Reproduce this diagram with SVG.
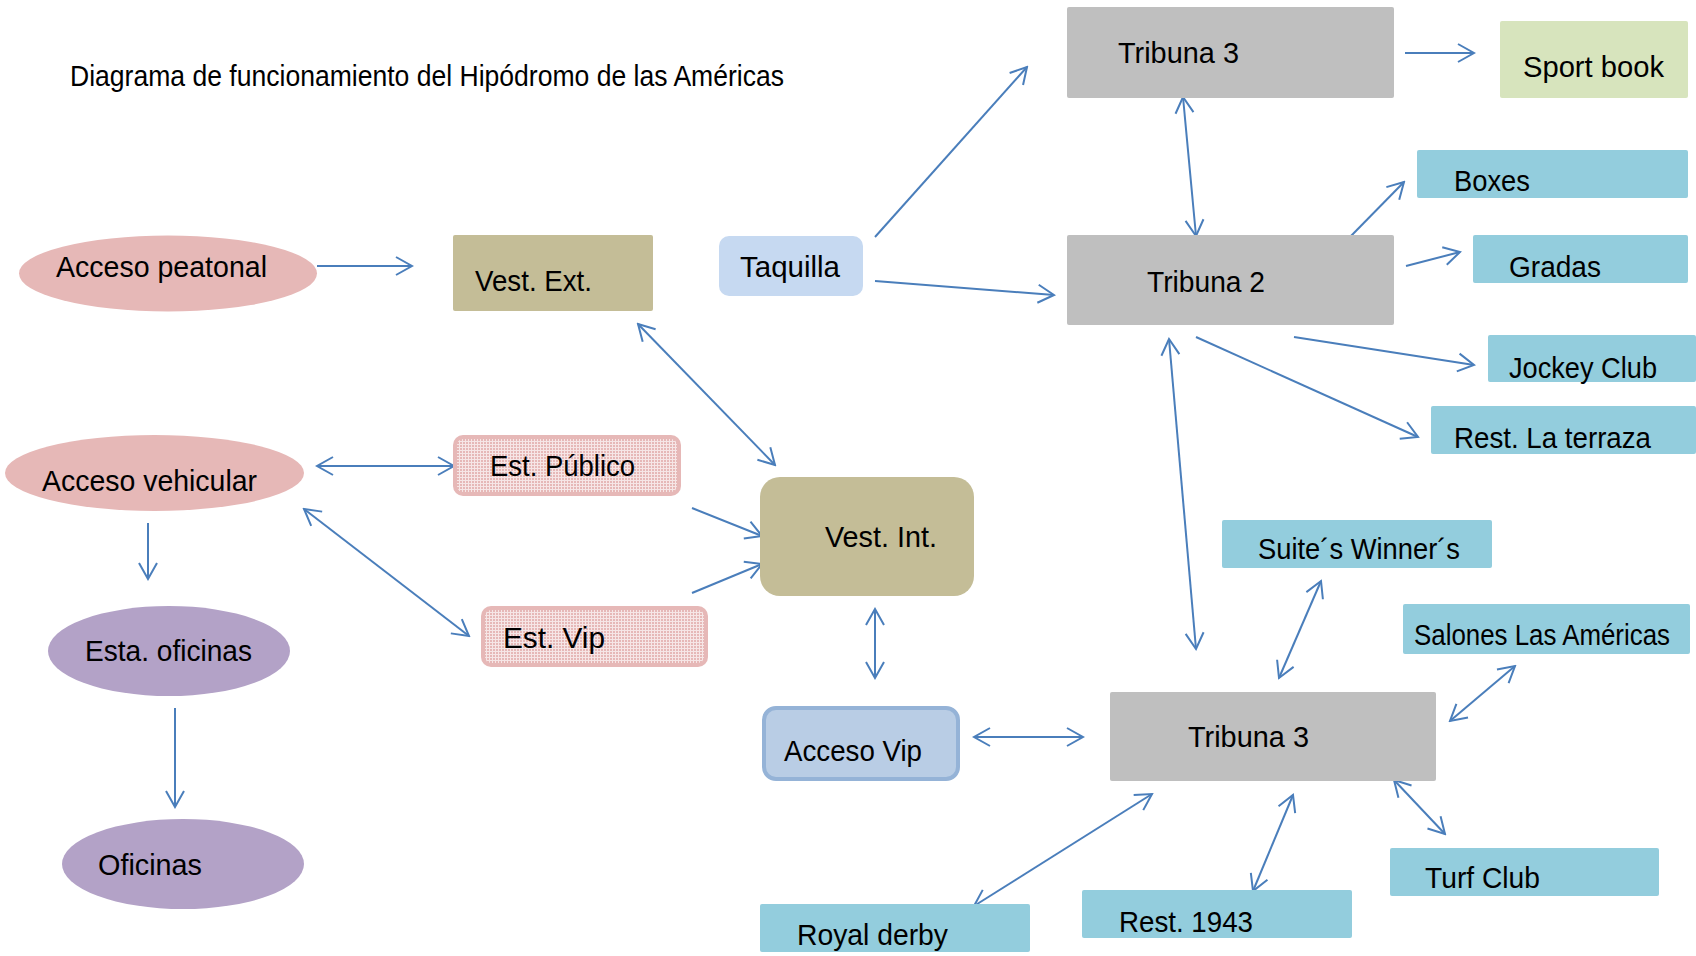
<svg xmlns="http://www.w3.org/2000/svg" width="1696" height="956" viewBox="0 0 1696 956">
<style>
text{font-family:"Liberation Sans",Arial,sans-serif;font-size:30px;fill:#000}
.c line{stroke:#4A7EBB;stroke-width:2;fill:none}
.one{marker-end:url(#arr)}
.two{marker-start:url(#arr);marker-end:url(#arr)}
.pink{fill:#E6B8B7}
.tan{fill:#C4BD97}
.gray{fill:#BFBFBF}
.teal{fill:#93CDDD}
.purple{fill:#B3A2C7}
</style>
<defs>
<marker id="arr" viewBox="-18 -11 20 22" markerWidth="20" markerHeight="22" refX="0" refY="0" orient="auto-start-reverse" markerUnits="userSpaceOnUse">
<path d="M-16,-9 L0,0 L-16,9" fill="none" stroke="#4A7EBB" stroke-width="2"/>
</marker>
<pattern id="grid" width="3" height="3" patternUnits="userSpaceOnUse">
<rect width="3" height="3" fill="#E6B8B7"/>
<rect width="3" height="1" fill="#F6E6E6"/>
<rect width="1" height="3" fill="#F6E6E6"/>
</pattern>
</defs>
<rect width="1696" height="956" fill="#fff"/>
<text x="70" y="86" font-size="26" textLength="714" lengthAdjust="spacingAndGlyphs">Diagrama de funcionamiento del Hipódromo de las Américas</text>

<g class="c">
<line class="one" x1="317" y1="266" x2="412" y2="266"/>
<line class="two" x1="317" y1="466" x2="454" y2="466"/>
<line class="two" x1="304" y1="509" x2="469" y2="636"/>
<line class="one" x1="148" y1="523" x2="148" y2="579"/>
<line class="one" x1="175" y1="708" x2="175" y2="807"/>
<line class="two" x1="638" y1="324" x2="775" y2="465"/>
<line class="one" x1="692" y1="508" x2="762" y2="536"/>
<line class="one" x1="692" y1="593" x2="762" y2="564"/>
<line class="two" x1="875" y1="609" x2="875" y2="678"/>
<line class="one" x1="875" y1="237" x2="1027" y2="67"/>
<line class="one" x1="875" y1="281" x2="1054" y2="295"/>
<line class="one" x1="1405" y1="53" x2="1474" y2="53"/>
<line class="two" x1="1183" y1="97" x2="1196" y2="236"/>
<line class="one" x1="1350" y1="237" x2="1404" y2="182"/>
<line class="one" x1="1406" y1="266" x2="1460" y2="252"/>
<line class="one" x1="1294" y1="337" x2="1474" y2="365"/>
<line class="one" x1="1196" y1="337" x2="1418" y2="437"/>
<line class="two" x1="1169" y1="339" x2="1196" y2="649"/>
<line class="two" x1="1321" y1="581" x2="1279" y2="678"/>
<line class="two" x1="1515" y1="666" x2="1450" y2="721"/>
<line class="two" x1="1394" y1="780" x2="1445" y2="834"/>
<line class="two" x1="1293" y1="795" x2="1253" y2="891"/>
<line class="two" x1="1152" y1="794" x2="974" y2="906"/>
<line class="two" x1="974" y1="737" x2="1083" y2="737"/>
</g>

<g id="acceso-peatonal"><ellipse class="pink" cx="168" cy="273.5" rx="149" ry="38"/><text x="56" y="277" textLength="211" lengthAdjust="spacingAndGlyphs">Acceso peatonal</text></g>
<g id="vest-ext"><rect class="tan" x="453" y="235" width="200" height="76" rx="2"/><text x="475" y="291" textLength="117" lengthAdjust="spacingAndGlyphs">Vest. Ext.</text></g>
<g id="taquilla"><rect x="719" y="236" width="144" height="60" rx="10" fill="#C6D9F1"/><text x="740" y="277" textLength="100" lengthAdjust="spacingAndGlyphs">Taquilla</text></g>
<g id="tribuna3-top"><rect class="gray" x="1067" y="7" width="327" height="91" rx="2"/><text x="1118" y="63" textLength="121" lengthAdjust="spacingAndGlyphs">Tribuna 3</text></g>
<g id="sport-book"><rect x="1500" y="21" width="188" height="77" rx="2" fill="#D7E4BD"/><text x="1523" y="77" textLength="141" lengthAdjust="spacingAndGlyphs">Sport book</text></g>
<g id="boxes"><rect class="teal" x="1417" y="150" width="271" height="48" rx="2"/><text x="1454" y="191" textLength="76" lengthAdjust="spacingAndGlyphs">Boxes</text></g>
<g id="tribuna2"><rect class="gray" x="1067" y="235" width="327" height="90" rx="2"/><text x="1147" y="292" textLength="118" lengthAdjust="spacingAndGlyphs">Tribuna 2</text></g>
<g id="gradas"><rect class="teal" x="1473" y="235" width="215" height="48" rx="2"/><text x="1509" y="277" textLength="92" lengthAdjust="spacingAndGlyphs">Gradas</text></g>
<g id="jockey-club"><rect class="teal" x="1488" y="335" width="208" height="47" rx="2"/><text x="1509" y="378" textLength="148" lengthAdjust="spacingAndGlyphs">Jockey Club</text></g>
<g id="rest-la-terraza"><rect class="teal" x="1431" y="406" width="265" height="48" rx="2"/><text x="1454" y="448" textLength="197" lengthAdjust="spacingAndGlyphs">Rest. La terraza</text></g>
<g id="acceso-vehicular"><ellipse class="pink" cx="154.5" cy="473" rx="149.5" ry="38"/><text x="42" y="491" textLength="215" lengthAdjust="spacingAndGlyphs">Acceso vehicular</text></g>
<g id="est-publico"><rect x="453" y="435" width="228" height="61" rx="10" class="pink"/><rect x="457" y="439" width="220" height="53" rx="6" fill="url(#grid)"/><text x="490" y="476" textLength="145" lengthAdjust="spacingAndGlyphs">Est. Público</text></g>
<g id="est-vip"><rect x="481" y="606" width="227" height="61" rx="10" class="pink"/><rect x="485" y="610" width="219" height="53" rx="6" fill="url(#grid)"/><text x="503" y="648" textLength="102" lengthAdjust="spacingAndGlyphs">Est. Vip</text></g>
<g id="vest-int"><rect class="tan" x="760" y="477" width="214" height="119" rx="20"/><text x="825" y="547" textLength="112" lengthAdjust="spacingAndGlyphs">Vest. Int.</text></g>
<g id="suites-winners"><rect class="teal" x="1222" y="520" width="270" height="48" rx="2"/><text x="1258" y="559" font-size="28" textLength="202" lengthAdjust="spacingAndGlyphs">Suite´s Winner´s</text></g>
<g id="salones"><rect class="teal" x="1403" y="604" width="287" height="50" rx="2"/><text x="1414" y="645" font-size="27" textLength="256" lengthAdjust="spacingAndGlyphs">Salones Las Américas</text></g>
<g id="esta-oficinas"><ellipse class="purple" cx="169" cy="651" rx="121" ry="45"/><text x="85" y="661" textLength="167" lengthAdjust="spacingAndGlyphs">Esta. oficinas</text></g>
<g id="oficinas"><ellipse class="purple" cx="183" cy="864" rx="121" ry="45"/><text x="98" y="875" textLength="104" lengthAdjust="spacingAndGlyphs">Oficinas</text></g>
<g id="acceso-vip"><rect x="764" y="708" width="194" height="71" rx="12" fill="#B9CDE5" stroke="#95B3D7" stroke-width="4"/><text x="784" y="761" textLength="138" lengthAdjust="spacingAndGlyphs">Acceso Vip</text></g>
<g id="tribuna3-bottom"><rect class="gray" x="1110" y="692" width="326" height="89" rx="2"/><text x="1188" y="747" textLength="121" lengthAdjust="spacingAndGlyphs">Tribuna 3</text></g>
<g id="turf-club"><rect class="teal" x="1390" y="848" width="269" height="48" rx="2"/><text x="1425" y="888" textLength="115" lengthAdjust="spacingAndGlyphs">Turf Club</text></g>
<g id="rest-1943"><rect class="teal" x="1082" y="890" width="270" height="48" rx="2"/><text x="1119" y="932" textLength="134" lengthAdjust="spacingAndGlyphs">Rest. 1943</text></g>
<g id="royal-derby"><rect class="teal" x="760" y="904" width="270" height="48" rx="2"/><text x="797" y="945" textLength="151" lengthAdjust="spacingAndGlyphs">Royal derby</text></g>
</svg>
